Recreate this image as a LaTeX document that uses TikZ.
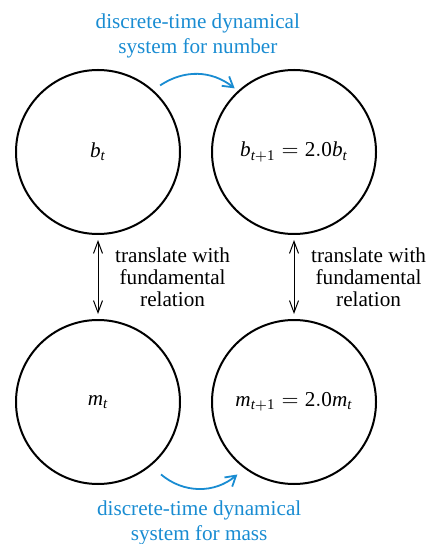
\documentclass[tikz,border=0pt]{standalone}
\usepackage{fontspec}
\setmainfont{Liberation Serif}
\usepackage{xcolor}
\usepackage{tikz}
\usetikzlibrary{positioning,calc,arrows.meta}

\definecolor{dynblue}{RGB}{25,140,210}
\newcommand{\vr}[1]{\mathit{#1}}

\begin{document}
\begin{tikzpicture}[
  node distance=43pt and 16pt,
  state/.style={draw, circle, line width=1pt, minimum size=82pt, inner sep=0pt, outer sep=0pt, font=\fontsize{10.6}{12.5}\selectfont},
  relation/.style={{Straight Barb[length=6pt,width=4.5pt]}-{Straight Barb[length=6pt,width=4.5pt]}, line width=0.5pt, shorten >=3pt, shorten <=3pt},
  dynarrow/.style={-{Straight Barb[length=5pt,width=6pt]}, dynblue, line width=0.9pt},
  rellabel/.style={align=center, font=\fontsize{10.6}{11}\selectfont},
  dynlabel/.style={align=center, text=dynblue, font=\fontsize{10.6}{12.5}\selectfont}
]
\useasboundingbox (0,0) rectangle (214.5pt,-272pt);

\node[state] (bt) at (49pt,-76pt) {$\vr{b}_{\vr{t}}$};
\node[state, right=of bt] (bt1) {$\vr{b}_{\vr{t}+\mathrm{1}} = \mathrm{2.0}\vr{b}_{\vr{t}}$};
\node[state, below=of bt] (mt) {$\vr{m}_{\vr{t}}$};
\node[state, right=of mt] (mt1) {$\vr{m}_{\vr{t}+\mathrm{1}} = \mathrm{2.0}\vr{m}_{\vr{t}}$};

% translations between number and mass
\draw[relation] (bt) -- (mt) node[midway, right=5pt, rellabel] {translate with\\fundamental\\relation};
\draw[relation] (bt1) -- (mt1) node[midway, right=5pt, rellabel] {translate with\\fundamental\\relation};

% dynamical systems
\draw[dynarrow] ($(bt.47)+(47:4.5pt)$) to[bend left=36] node[midway, above=4pt, dynlabel] {discrete-time dynamical\\system for number} ($(bt1.133)+(133:2.5pt)$);
\draw[dynarrow] ($(mt.-49)+(-49:7pt)$) to[bend right=40] node[midway, below=2pt, dynlabel] {discrete-time dynamical\\system for mass} ($(mt1.-128)+(-128:5pt)$);
\end{tikzpicture}
\end{document}
